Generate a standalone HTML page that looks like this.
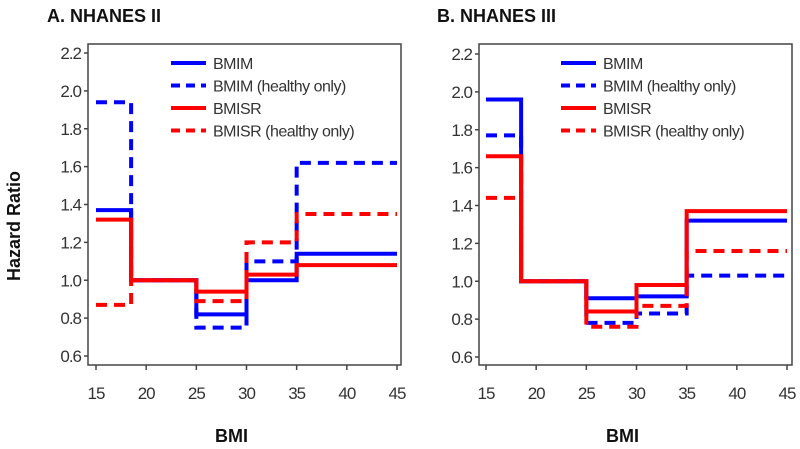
<!DOCTYPE html>
<html><head><meta charset="utf-8"><style>
body{margin:0;background:#fff;}
svg{display:block;font-family:"Liberation Sans",Arial,sans-serif;}
</style></head><body>
<svg id="c" width="800" height="449"></svg>
<script>
const bmiBreaks = [15, 18.5, 25, 30, 35, 45];
const yTicks = [0.6, 0.8, 1.0, 1.2, 1.4, 1.6, 1.8, 2.0, 2.2];
const xTicks = [15, 20, 25, 30, 35, 40, 45];
const seriesNames = ["BMIM", "BMIM (healthy only)", "BMISR", "BMISR (healthy only)"];
const a_bmim = [1.37, 1.0, 0.82, 1.0, 1.14];
const a_bmimH = [1.94, 1.0, 0.75, 1.10, 1.62];
const a_bmisr = [1.32, 1.0, 0.94, 1.03, 1.08];
const a_bmisrH = [0.87, 1.0, 0.89, 1.20, 1.35];
const b_bmim = [1.96, 1.0, 0.91, 0.92, 1.32];
const b_bmimH = [1.77, 1.0, 0.78, 0.83, 1.03];
const b_bmisr = [1.66, 1.0, 0.84, 0.98, 1.37];
const b_bmisrH = [1.44, 1.0, 0.76, 0.87, 1.16];

const NS = "http://www.w3.org/2000/svg";
const svg = document.getElementById("c");
function mk(tag, attrs, parent) {
  const e = document.createElementNS(NS, tag);
  for (const k in attrs) e.setAttribute(k, attrs[k]);
  (parent || svg).appendChild(e);
  return e;
}
const styles = [
  {color: "#0000ff", dash: null},
  {color: "#0000ff", dash: "11 7"},
  {color: "#ff0000", dash: null},
  {color: "#ff0000", dash: "11 7"}
];
function panel(key, title, titleX, fx0, fx1, fy0, fy1, xs0, xs1, ys0, ys1, data, legX) {
  const g = mk("g", {});
  
  
  const xS = v => xs0 + (v - 15) / 30 * (xs1 - xs0);
  const yS = v => ys1 - (v - 0.6) / 1.6 * (ys1 - ys0);
  const t = mk("text", {x: titleX, y: 22, "font-size": 18, "font-weight": "bold", fill: "#111"}, g);
  t.textContent = title;
  
  
  const fr = mk("rect", {x: fx0, y: fy0, width: fx1 - fx0, height: fy1 - fy0, fill: "none", stroke: "#444", "stroke-width": 1.5}, g);
  
  
  yTicks.forEach(v => {
    const y = yS(v);
    mk("line", {x1: fx0 - 4, x2: fx0, y1: y, y2: y, stroke: "#444", "stroke-width": 1.5}, g);
    const tl = mk("text", {x: fx0 - 7, y: y + 6, "font-size": 17, "text-anchor": "end", fill: "#333", "letter-spacing": "-1"}, g);
    tl.textContent = v.toFixed(1);
    
    
  });
  xTicks.forEach(v => {
    const x = xS(v);
    mk("line", {x1: x, x2: x, y1: fy1, y2: fy1 + 5, stroke: "#444", "stroke-width": 1.5}, g);
    const tl = mk("text", {x: x, y: fy1 + 34, "font-size": 17, "text-anchor": "middle", fill: "#333", "letter-spacing": "-1"}, g);
    tl.textContent = v;
    
    
  });
  const xt = mk("text", {x: (fx0 + fx1) / 2 - 13, y: 442, "font-size": 18, "font-weight": "bold", "text-anchor": "middle", fill: "#111"}, g);
  xt.textContent = "BMI";
  
  
  data.forEach((vals, i) => {
    let d = "";
    vals.forEach((v, j) => {
      const x0 = xS(bmiBreaks[j]), x1 = xS(bmiBreaks[j + 1]), y = yS(v);
      d += (j === 0 ? "M" : "L") + x0 + "," + y + "L" + x1 + "," + y;
    });
    const p = mk("path", {d: d, fill: "none", stroke: styles[i].color, "stroke-width": 4}, g);
    if (styles[i].dash) p.setAttribute("stroke-dasharray", styles[i].dash);
    
    
  });
  seriesNames.forEach((n, i) => {
    const y = 63 + i * 22.5;
    const lg = mk("g", {}, g);
    
    
    const l = mk("line", {x1: legX, x2: legX + 35, y1: y, y2: y, stroke: styles[i].color, "stroke-width": 4}, lg);
    if (styles[i].dash) l.setAttribute("stroke-dasharray", "9 6");
    const tx = mk("text", {x: legX + 42, y: y + 6, "font-size": 16, fill: "#333", "letter-spacing": "-0.5"}, lg);
    tx.textContent = n;
  });
}
panel("panel-a", "A. NHANES II", 47, 88, 401, 44, 365, 96, 397, 53, 356, [a_bmim, a_bmimH, a_bmisr, a_bmisrH], 171);
panel("panel-b", "B. NHANES III", 437, 479, 792, 44, 365, 486, 787, 54, 357, [b_bmim, b_bmimH, b_bmisr, b_bmisrH], 561);
const yt = mk("text", {x: 0, y: 0, "font-size": 18, "font-weight": "bold", "text-anchor": "middle", fill: "#111", transform: "translate(20,226) rotate(-90)"});
yt.textContent = "Hazard Ratio";


</script>
</body></html>
